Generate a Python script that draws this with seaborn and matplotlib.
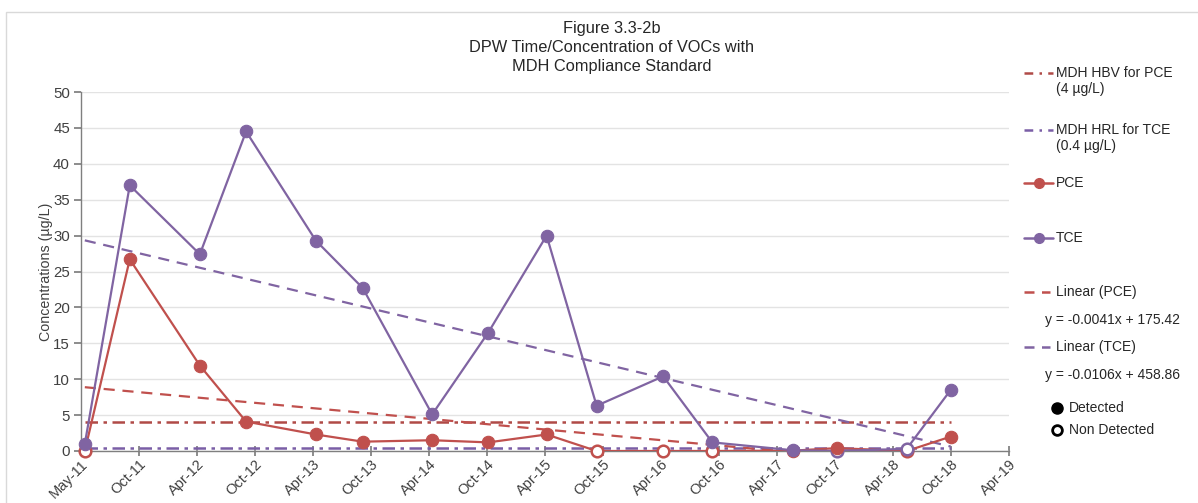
import numpy as np
import pandas as pd
import matplotlib
matplotlib.use("Agg")
import matplotlib.pyplot as plt
import matplotlib.dates as mdates
from matplotlib.lines import Line2D
from matplotlib.patches import Rectangle
import seaborn as sns

# ---------------- data ----------------
dates = ["2011-05-13", "2011-10-01", "2012-05-08", "2012-09-30", "2013-05-07",
         "2013-10-01", "2014-05-07", "2014-10-30", "2015-05-01", "2015-10-05",
         "2016-05-01", "2016-10-02", "2017-06-13", "2017-10-27", "2018-06-04",
         "2018-10-20"]
pce = [0.0, 26.7, 11.9, 4.1, 2.3, 1.3, 1.5, 1.2, 2.3, 0.0, 0.0, 0.0, 0.05, 0.4, 0.0, 2.0]
pce_detected = [False, True, True, True, True, True, True, True, True, False, False, False,
                True, True, False, True]
tce = [1.0, 37.0, 27.4, 44.5, 29.3, 22.7, 5.1, 16.5, 30.0, 6.3, 10.4, 1.2, 0.1, 0.0, 0.3, 8.5]
tce_detected = [True, True, True, True, True, True, True, True, True, True, True, True,
                True, False, False, True]
hbv_pce = 4.0
hrl_tce = 0.4
title_lines = ["Figure 3.3-2b", "DPW Time/Concentration of VOCs with", "MDH Compliance Standard"]
eq_pce = "y = -0.0041x + 175.42"
eq_tce = "y = -0.0106x + 458.86"
axis_start = "2011-05-01"
tick_step_days = 182
n_ticks = 17
y_ticks = [0, 5, 10, 15, 20, 25, 30, 35, 40, 45, 50]

# ---------------- style ----------------
sns.set_theme(style="white")
plt.rcParams["font.family"] = ["Liberation Sans", "DejaVu Sans"]

C_PCE = "#C0504D"
C_TCE = "#8064A2"
C_HBV = "#B04A47"
C_HRL = "#7A5EA6"
TXT = "#404040"

W, H = 1198, 503
fig = plt.figure(figsize=(W / 100, H / 100), dpi=100)
fig.patch.set_facecolor("white")


def fx(px):
    return px / W


def fy(py):
    return 1 - py / H


ax = fig.add_axes([fx(81), fy(451), fx(1009) - fx(81), fy(92) - fy(451)])

df = pd.DataFrame({"date": pd.to_datetime(dates), "PCE": pce, "TCE": tce,
                   "pce_det": pce_detected, "tce_det": tce_detected})
df["HBV"] = hbv_pce
df["HRL"] = hrl_tce

dash_dot = (0, (5, 2.2, 1.4, 2.2))
# standards
sns.lineplot(data=df, x="date", y="HBV", ax=ax, color=C_HBV, lw=1.8, zorder=2)
ax.lines[-1].set_linestyle(dash_dot)
sns.lineplot(data=df, x="date", y="HRL", ax=ax, color=C_HRL, lw=1.8, zorder=2)
ax.lines[-1].set_linestyle(dash_dot)

# trend lines (least squares on date numbers)
xn = mdates.date2num(df["date"])
for col, c in (("PCE", C_PCE), ("TCE", C_TCE)):
    k, b = np.polyfit(xn, df[col].values, 1)
    tr = pd.DataFrame({"date": df["date"].iloc[[0, -1]],
                       "y": k * xn[[0, -1]] + b})
    sns.lineplot(data=tr, x="date", y="y", ax=ax, color=c, lw=1.6, zorder=2)
    ax.lines[-1].set_linestyle((0, (5, 3.5)))

# series lines
for col, c in (("PCE", C_PCE), ("TCE", C_TCE)):
    sns.lineplot(data=df, x="date", y=col, ax=ax, color=c, lw=1.6, zorder=3)

# markers: (column, detected-flag column, colour, detected?, zorder)
marker_layers = [("PCE", "pce_det", C_PCE, False, 4.0),
                 ("TCE", "tce_det", C_TCE, False, 4.2),
                 ("PCE", "pce_det", C_PCE, True, 4.5),
                 ("TCE", "tce_det", C_TCE, True, 4.7)]
for col, det, c, is_det, z in marker_layers:
    sub = df[df[det] == is_det]
    if is_det:
        sns.scatterplot(data=sub, x="date", y=col, ax=ax, color=c, s=80, edgecolor=c,
                        linewidth=0.8, zorder=z)
    else:
        sns.scatterplot(data=sub, x="date", y=col, ax=ax, facecolor="white", s=70,
                        edgecolor=c, linewidth=1.8, zorder=z)
    ax.collections[-1].set_clip_on(False)

# axes
start = pd.Timestamp(axis_start)
ticks = [start + pd.Timedelta(days=tick_step_days * i) for i in range(n_ticks)]
ax.set_xlim(ticks[0], ticks[-1])
ax.set_ylim(0, 50)
ax.set_xticks(ticks)
ax.xaxis.set_major_formatter(mdates.DateFormatter("%b-%y"))
ax.set_yticks(y_ticks)
ax.grid(axis="y", color="#E3E3E3", lw=1)
ax.set_axisbelow(True)
for s in ("top", "right"):
    ax.spines[s].set_visible(False)
for s in ("left", "bottom"):
    ax.spines[s].set_color("#7F7F7F")
    ax.spines[s].set_linewidth(1)
ax.tick_params(axis="y", direction="out", length=5, color="#7F7F7F", labelsize=10.8,
               labelcolor=TXT, pad=3, left=True)
ax.tick_params(axis="x", direction="inout", length=7, color="#7F7F7F", labelsize=10.5,
               labelcolor=TXT, pad=1, bottom=True)
for lab in ax.get_xticklabels():
    lab.set_rotation(45)
    lab.set_ha("right")
    lab.set_rotation_mode("anchor")
ax.set_xlabel("")
ax.set_ylabel("Concentrations (µg/L)", fontsize=10.3, color=TXT, labelpad=0)
ax.set_facecolor("white")

# title
for i, t in enumerate(title_lines):
    fig.text(fx(612), fy(29 + 19 * i), t, ha="center", va="center", fontsize=11.8,
             color="#262626")

# chart border
fig.add_artist(Rectangle((fx(6), fy(520)), fx(1250) - fx(6), fy(12) - fy(520),
                         transform=fig.transFigure, fill=False, edgecolor="#D9D9D9",
                         lw=1))

# legend (drawn manually to mimic the spreadsheet layout)
LFS = 10


def leg_line(y, color, ls, marker=None, x0=1024, x1=1053):
    fig.add_artist(Line2D([fx(x0), fx(x1)], [fy(y), fy(y)], transform=fig.transFigure,
                          color=color, ls=ls, lw=1.8))
    if marker:
        fig.add_artist(Line2D([fx((x0 + x1) / 2)], [fy(y)], transform=fig.transFigure,
                              color=color, marker="o", ms=7, lw=0))


def leg_text(x, y, s):
    fig.text(fx(x), fy(y), s, ha="left", va="center", fontsize=LFS, color="#262626")


leg_line(73, C_HBV, (0, (3.5, 2.5, 1, 2.5)))
leg_text(1056, 73, "MDH HBV for PCE")
leg_text(1056, 89, "(4 µg/L)")
leg_line(130, C_HRL, (0, (3.5, 2.5, 1, 2.5)))
leg_text(1056, 130, "MDH HRL for TCE")
leg_text(1056, 146, "(0.4 µg/L)")
leg_line(183, C_PCE, "-", marker=True)
leg_text(1056, 183, "PCE")
leg_line(238, C_TCE, "-", marker=True)
leg_text(1056, 238, "TCE")
leg_line(292, C_PCE, (0, (4, 3)), x1=1050)
leg_text(1056, 292, "Linear (PCE)")
leg_text(1045, 320, eq_pce)
leg_line(347, C_TCE, (0, (4, 3)), x1=1050)
leg_text(1056, 347, "Linear (TCE)")
leg_text(1045, 375, eq_tce)
fig.add_artist(Line2D([fx(1057)], [fy(408)], transform=fig.transFigure, marker="o",
                      ms=8, color="black", lw=0))
leg_text(1069, 408, "Detected")
fig.add_artist(Line2D([fx(1057)], [fy(430)], transform=fig.transFigure, marker="o",
                      ms=7, mfc="white", mec="black", mew=2, lw=0))
leg_text(1069, 430, "Non Detected")

fig.savefig("out.png", dpi=100, facecolor="white")
